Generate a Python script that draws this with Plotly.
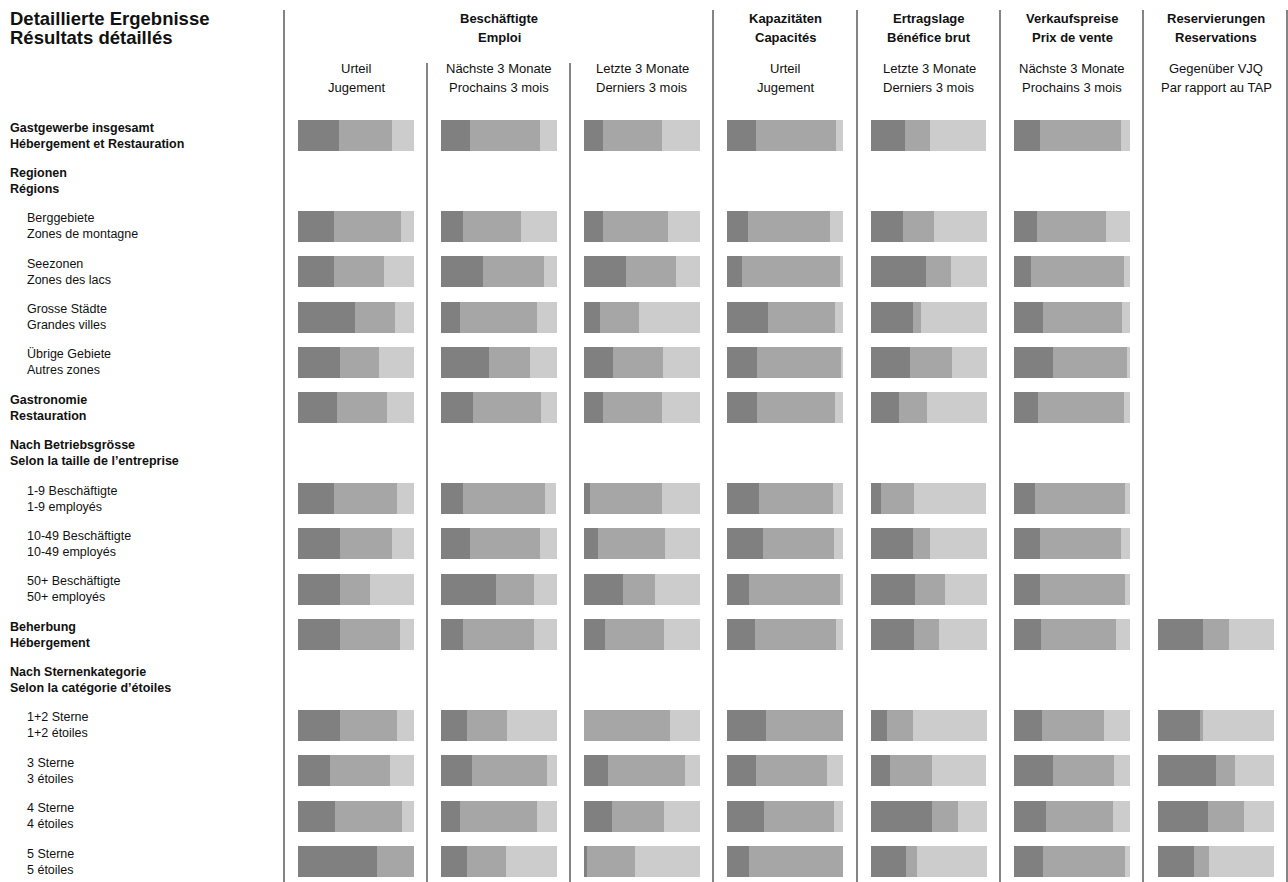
import plotly.graph_objects as go

# Zeilen: Deutsch / Französisch, Art der Zeile
row_de = ["Gastgewerbe insgesamt", "Regionen", "Berggebiete", "Seezonen", "Grosse Städte",
          "Übrige Gebiete", "Gastronomie", "Nach Betriebsgrösse", "1-9 Beschäftigte",
          "10-49 Beschäftigte", "50+ Beschäftigte", "Beherbung", "Nach Sternenkategorie",
          "1+2 Sterne", "3 Sterne", "4 Sterne", "5 Sterne"]
row_fr = ["Hébergement et Restauration", "Régions", "Zones de montagne", "Zones des lacs",
          "Grandes villes", "Autres zones", "Restauration", "Selon la taille de l’entreprise",
          "1-9 employés", "10-49 employés", "50+ employés", "Hébergement",
          "Selon la catégorie d’étoiles", "1+2 étoiles", "3 étoiles", "4 étoiles", "5 étoiles"]
row_kind = ["total", "head", "sub", "sub", "sub", "sub", "total", "head", "sub", "sub", "sub",
            "total", "head", "sub", "sub", "sub", "sub"]

# Spaltenköpfe
group_de = ["Beschäftigte", "Kapazitäten", "Ertragslage", "Verkaufspreise", "Reservierungen"]
group_fr = ["Emploi", "Capacités", "Bénéfice brut", "Prix de vente", "Reservations"]
group_col = [1, 3, 4, 5, 6]
sub_de = ["Urteil", "Nächste 3 Monate", "Letzte 3 Monate", "Urteil", "Letzte 3 Monate",
          "Nächste 3 Monate", "Gegenüber VJQ"]
sub_fr = ["Jugement", "Prochains 3 mois", "Derniers 3 mois", "Jugement", "Derniers 3 mois",
          "Prochains 3 mois", "Par rapport au TAP"]

# Anteile in % (dunkel, mittel, hell) je Datenzeile
emp_urteil = [(35, 46, 19), (31, 58, 11), (31, 43, 26), (49, 35, 16), (36, 34, 30), (34, 43, 23),
              (31, 54, 15), (36, 45, 19), (36, 26, 38), (36, 52, 12), (36, 49, 15), (28, 51, 21),
              (32, 58, 10), (68, 32, 0)]
emp_next = [(25, 60, 15), (19, 50, 31), (36, 53, 11), (16, 67, 17), (41, 36, 23), (28, 58, 14),
            (19, 71, 9), (25, 60, 15), (47, 33, 20), (19, 61, 20), (22, 35, 43), (27, 64, 9),
            (16, 67, 17), (22, 34, 44)]
emp_last = [(16, 51, 33), (16, 56, 28), (36, 43, 21), (14, 33, 53), (25, 43, 32), (16, 51, 33),
            (5, 62, 33), (12, 58, 30), (34, 27, 39), (18, 51, 31), (0, 74, 26), (21, 66, 13),
            (24, 45, 31), (3, 41, 56)]
cap_urteil = [(25, 69, 6), (18, 71, 11), (13, 84, 3), (35, 58, 7), (26, 73, 1), (26, 67, 7),
              (28, 63, 9), (31, 61, 8), (19, 78, 3), (24, 70, 6), (34, 66, 0), (25, 61, 14),
              (32, 60, 8), (19, 81, 0)]
ertrag_last = [(29, 22, 48), (28, 26, 46), (47, 22, 31), (36, 7, 57), (34, 36, 30), (24, 24, 52),
               (9, 28, 62), (36, 15, 49), (38, 26, 36), (37, 22, 41), (14, 22, 64), (16, 37, 46),
               (53, 22, 25), (30, 10, 60)]
preis_next = [(22, 70, 8), (20, 59, 21), (15, 80, 5), (25, 68, 7), (34, 63, 3), (21, 74, 5),
              (18, 78, 4), (22, 70, 8), (22, 74, 4), (23, 65, 12), (24, 54, 22), (34, 52, 14),
              (28, 57, 15), (25, 71, 4)]
reserv = [None] * 9 + [(39, 22, 39), (36, 3, 61), (50, 16, 34), (43, 31, 26), (31, 13, 56)]

columns = [emp_urteil, emp_next, emp_last, cap_urteil, ertrag_last, preis_next, reserv]
colors = ["#808080", "#a6a6a6", "#cccccc"]

W, H = 1288, 882
FONT = "Liberation Sans, Arial, Helvetica, sans-serif"
bar_left = [298, 441, 584, 727, 871, 1014, 1158]
bar_w = 116
data_rows = [r for r, k in zip(row_de, row_kind) if k != "head"]

fig = go.Figure()
for c, col in enumerate(columns):
    xa = "x" if c == 0 else "x%d" % (c + 1)
    ys = [r for r, v in zip(data_rows, col) if v is not None]
    for s in range(3):
        fig.add_trace(go.Bar(
            x=[v[s] for v in col if v is not None], y=ys, orientation="h",
            xaxis=xa, yaxis="y", width=0.683,
            marker=dict(color=colors[s], line=dict(width=0)),
            showlegend=False, hoverinfo="x+y"))

layout = dict(
    width=W, height=H, margin=dict(l=0, r=0, t=0, b=0),
    paper_bgcolor="white", plot_bgcolor="white", barmode="stack",
    font=dict(family=FONT, size=13, color="#111"),
    yaxis=dict(type="category", categoryarray=row_de, range=[16.45, -2.986],
               visible=False, domain=[0, 1], fixedrange=True),
)
for c in range(7):
    key = "xaxis" if c == 0 else "xaxis%d" % (c + 1)
    layout[key] = dict(domain=[bar_left[c] / W, (bar_left[c] + bar_w) / W], range=[0, 100],
                       visible=False, anchor="y", fixedrange=True)
fig.update_layout(**layout)

ann = []
# Titel
ann.append(dict(text="<b>Detaillierte Ergebnisse</b>", x=8 / W, y=1 - 18 / H))
ann.append(dict(text="<b>Résultats détaillés</b>", x=8 / W, y=1 - 38 / H))
for a in ann:
    a.update(xref="paper", yref="paper", xanchor="left", yanchor="middle", showarrow=False,
             font=dict(size=18.5, color="#111"))

# Gruppenköpfe
for de, fr, c in zip(group_de, group_fr, group_col):
    xa = "x" if c == 0 else "x%d" % (c + 1)
    for txt, py in ((de, 18), (fr, 38)):
        ann.append(dict(text="<b>%s</b>" % txt, xref=xa, x=50, yref="paper", y=1 - py / H,
                        xanchor="center", yanchor="middle", showarrow=False,
                        font=dict(size=13)))
# Unterköpfe
for c in range(7):
    xa = "x" if c == 0 else "x%d" % (c + 1)
    for txt, py in ((sub_de[c], 69), (sub_fr[c], 88)):
        ann.append(dict(text=txt, xref=xa, x=50, yref="paper", y=1 - py / H,
                        xanchor="center", yanchor="middle", showarrow=False,
                        font=dict(size=13)))
# Zeilenbeschriftungen
for de, fr, k in zip(row_de, row_fr, row_kind):
    if k == "sub":
        txt, x0 = "%s<br>%s" % (de, fr), 25
    else:
        txt, x0 = "<b>%s<br>%s</b>" % (de, fr), 8
    ann.append(dict(text=txt, xref="paper", x=x0 / W, yref="y", y=de, xanchor="left",
                    yanchor="middle", align="left", showarrow=False, font=dict(size=12.5)))
fig.update_layout(annotations=ann)

# Trennlinien
shapes = []
for px, top in ((284, 10), (427, 63), (570, 63), (713, 10), (857, 10), (1000, 10),
                (1143, 10), (1287, 10)):
    shapes.append(dict(type="line", xref="paper", yref="paper", x0=px / W, x1=px / W,
                       y0=0, y1=1 - top / H, line=dict(color="#333", width=1.2)))
fig.update_layout(shapes=shapes)

fig.write_html("out.html", config={"displayModeBar": False},
               post_script="document.body.style.margin='0';")
